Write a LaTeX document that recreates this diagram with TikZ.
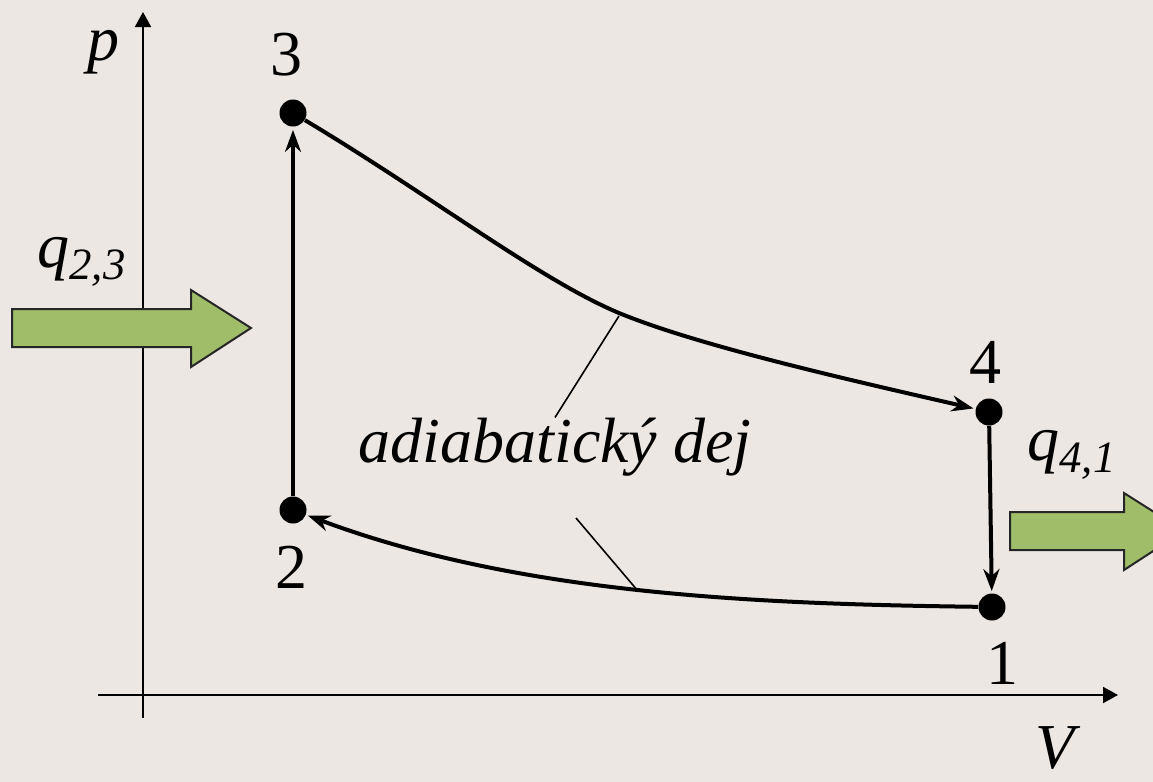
\documentclass[tikz,border=0pt]{standalone}
\usepackage{fontspec}
\setmainfont{Liberation Serif}
\usepackage{xcolor}
\usepackage{tikz}
\usetikzlibrary{arrows.meta}
\definecolor{paperbg}{HTML}{ECE7E3}
\definecolor{heatgreen}{HTML}{A0BD6A}
\definecolor{heatedge}{HTML}{262626}
\colorlet{cyclecol}{black}
\tikzset{every node/.append style={font=\rmfamily}}

\begin{document}
\begin{tikzpicture}[x=0.5pt, y=-0.5pt, >=Stealth,
    axis/.style={line width=1pt, -{Triangle[length=7.5pt,width=8pt]}},
    proc/.style={line width=2pt, color=cyclecol, -{Stealth[length=11pt,width=8pt]}},
    leader/.style={line width=0.8pt},
    dot/.style={circle, fill=cyclecol, inner sep=0pt, minimum size=13.5pt},
    lbl/.style={inner sep=0pt, font=\fontsize{32}{38}\selectfont},
    heat/.style={fill=heatgreen, draw=heatedge, line width=1pt, line join=miter}]
    % Frame and background
    \useasboundingbox (0,0) rectangle (1153,782);
    \fill[paperbg] (0,0) rectangle (1153,782);

    % Axes
    \coordinate (pbot) at (143,718);
    \coordinate (ptop) at (143,12);
    \coordinate (vleft) at (98,695);
    \coordinate (vright) at (1118,695);
    \draw[axis] (pbot) -- (ptop);
    \draw[axis] (vleft) -- (vright);
    \node[lbl] (plabel) at (103,52) {\itshape p};
    \node[lbl] (vlabel) at (1055,748) {\itshape V};

    % Heat in and out
    \draw[heat] (12,309) -- (191,309) -- (191,290) -- (251,328) -- (191,367) -- (191,347) -- (12,347) -- cycle;
    \draw[heat] (1010,512) -- (1124,512) -- (1124,493) -- (1184,531) -- (1124,570) -- (1124,550) -- (1010,550) -- cycle;
    \node[lbl] (qin) at (82,262) {\itshape q\textsubscript{2,3}};
    \node[lbl] (qout) at (1072,455) {\itshape q\textsubscript{4,1}};

    % States
    \node[dot] (p1) at (992,607) {};
    \node[dot] (p2) at (293,510) {};
    \node[dot] (p3) at (293,113) {};
    \node[dot] (p4) at (989,412) {};
    \node[lbl] (l1) at (1002,663) {1};
    \node[lbl] (l2) at (291,567) {2};
    \node[lbl] (l3) at (286,55) {3};
    \node[lbl] (l4) at (985,362) {4};

    % Cycle
    \draw[proc, shorten >=1.5pt] (p2) -- (p3);
    \draw[proc, shorten >=1pt] (p3) .. controls (430,195) and (540,280) .. (619,313)
        .. controls (699,346) and (850,380) .. (p4);
    \draw[proc, shorten >=1pt] (p4) -- (p1);
    \draw[proc, shorten >=1pt] (p1) .. controls (760,604) and (520,595) .. (p2);

    % Label with leaders
    \node[lbl] (adia) at (555,447) {\itshape adiabatický dej};
    \coordinate (upper) at (619,316);
    \coordinate (lowtop) at (576,518);
    \coordinate (lowend) at (638,591);
    \draw[leader] (adia.north) -- (upper);
    \draw[leader] (lowtop) -- (lowend);
\end{tikzpicture}
\end{document}
